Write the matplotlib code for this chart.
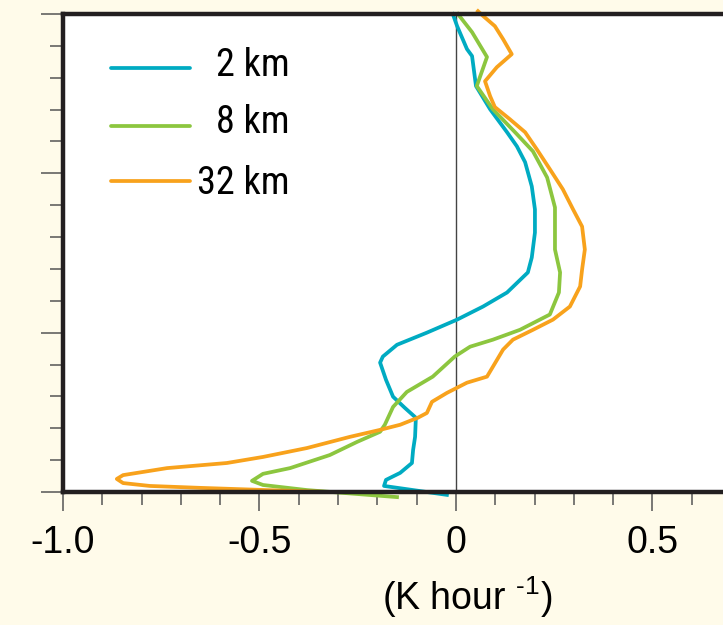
import matplotlib
matplotlib.use("Agg")
import matplotlib.pyplot as plt
from matplotlib import font_manager
from matplotlib.ticker import MultipleLocator

# legend labels in the original are a narrow sans, tick labels a regular one
names = {f.name for f in font_manager.fontManager.ttflist}
narrow = [n for n in ['Liberation Sans Narrow', 'Roboto Condensed', 'Open Sans Condensed'] if n in names]
leg_fam = [narrow[0], 'DejaVu Sans'] if narrow else ['Liberation Sans', 'DejaVu Sans']
leg_fs = 27.5 if narrow else 24
plt.rcParams['font.family'] = ['Liberation Sans', 'DejaVu Sans']
plt.rcParams['mathtext.fontset'] = 'custom'
plt.rcParams['mathtext.rm'] = 'Liberation Sans'
plt.rcParams['axes.unicode_minus'] = False

# heating rate (K/hour) vs height
h_2km = [15.0, 14.62, 13.90, 13.68, 12.74, 12.01, 11.29, 10.85, 10.35, 9.59, 8.87, 8.14,
         7.36, 6.89, 6.26, 5.82, 5.41, 5.00, 4.62, 4.25, 4.06, 3.52, 2.99, 2.64, 2.33,
         1.73, 1.32, 0.91, 0.60, 0.38, 0.19, -0.09]
q_2km = [-0.008, 0.003, 0.028, 0.041, 0.051, 0.087, 0.130, 0.155, 0.176, 0.193, 0.201, 0.201,
         0.193, 0.183, 0.130, 0.069, 0.003, -0.074, -0.150, -0.186, -0.193, -0.178, -0.160,
         -0.130, -0.102, -0.104, -0.109, -0.112, -0.142, -0.178, -0.183, -0.023]

h_8km = [15.0, 14.43, 13.65, 12.74, 12.01, 11.23, 10.69, 9.87, 8.93, 7.61, 6.89, 6.26, 5.57,
         5.09, 4.78, 4.56, 4.25, 3.62, 3.14, 2.67, 2.11, 1.89, 1.57, 1.16, 0.75, 0.57, 0.35,
         0.22, 0.06, -0.16]
q_8km = [0.005, 0.041, 0.079, 0.053, 0.094, 0.155, 0.196, 0.232, 0.252, 0.252, 0.265, 0.262,
         0.239, 0.163, 0.094, 0.036, -0.003, -0.059, -0.125, -0.160, -0.181, -0.193, -0.252,
         -0.321, -0.422, -0.491, -0.519, -0.491, -0.379, -0.150]

h_32km = [15.09, 14.94, 14.62, 14.21, 13.74, 13.33, 12.89, 12.42, 12.08, 11.70, 11.29, 10.75,
          10.13, 9.50, 8.87, 8.33, 7.61, 6.98, 6.45, 5.82, 5.41, 5.09, 4.78, 4.47, 3.93, 3.62,
          3.43, 3.11, 2.83, 2.48, 2.33, 2.11, 1.95, 1.73, 1.38, 1.10, 0.91, 0.75, 0.53, 0.41,
          0.28, 0.19, 0.13, 0.06, 0.0]
q_32km = [0.056, 0.069, 0.099, 0.120, 0.142, 0.104, 0.074, 0.087, 0.099, 0.137, 0.176, 0.206,
          0.239, 0.272, 0.298, 0.321, 0.328, 0.321, 0.316, 0.290, 0.247, 0.196, 0.145, 0.120,
          0.094, 0.079, 0.028, -0.023, -0.061, -0.074, -0.097, -0.142, -0.193, -0.270, -0.379,
          -0.491, -0.583, -0.735, -0.847, -0.863, -0.847, -0.779, -0.651, -0.481, -0.321]

labels = ['2 km', '8 km', '32 km']
colors = ['#00abc2', '#8cc63f', '#f8a21c']

xticks = [-1.0, -0.5, 0, 0.5]
xticklabels = ['-1.0', '-0.5', '0', '0.5']

fig = plt.figure(figsize=(7.23, 6.25), dpi=100)
fig.patch.set_facecolor('#fffbea')
ax = fig.add_axes([0.0871, 0.2128, 0.924, 0.7648])
ax.set_facecolor('white')

series = [(q_2km, h_2km), (q_8km, h_8km), (q_32km, h_32km)]
for (q, h), c in zip(series, colors):
    ax.plot(q, h, color=c, lw=2.7, clip_on=False, zorder=3, solid_joinstyle='round')

ax.axvline(0, color='#444444', lw=1.0, zorder=2)

ax.set_xlim(-1.0, 0.7)
ax.set_ylim(0, 15)

for s in ['left', 'top', 'bottom']:
    ax.spines[s].set_linewidth(3.2)
    ax.spines[s].set_color('#231f20')
    ax.spines[s].set_zorder(4)
ax.spines['right'].set_visible(False)

ax.set_xticks(xticks)
ax.set_xticklabels(xticklabels, fontsize=27)
ax.xaxis.set_minor_locator(MultipleLocator(0.1))
ax.yaxis.set_major_locator(MultipleLocator(5))
ax.yaxis.set_minor_locator(MultipleLocator(1))
ax.set_yticklabels([])
ax.tick_params(axis='x', which='major', length=14, width=1.1, color='#555555', pad=10)
ax.tick_params(axis='x', which='minor', length=9, width=1.1, color='#555555')
ax.tick_params(axis='y', which='major', length=16, width=1.1, color='#555555')
ax.tick_params(axis='y', which='minor', length=9.5, width=1.1, color='#555555')

# legend drawn by hand so the labels can be right aligned
leg_y = [0.887, 0.765, 0.650]
txt_y = [0.893, 0.773, 0.645]
for lab, c, ly, ty in zip(labels, colors, leg_y, txt_y):
    ax.plot([0.072, 0.190], [ly, ly], color=c, lw=2.7, transform=ax.transAxes,
            solid_capstyle='round')
    ax.text(0.339, ty, lab, transform=ax.transAxes, ha='right', va='center',
            fontsize=leg_fs, family=leg_fam)

fig.text(467 / 723, 0.044, r'(K hour $^{\text{-1}}$)', ha='center', va='center', fontsize=27)

fig.savefig('out.png', dpi=100, facecolor=fig.get_facecolor())
